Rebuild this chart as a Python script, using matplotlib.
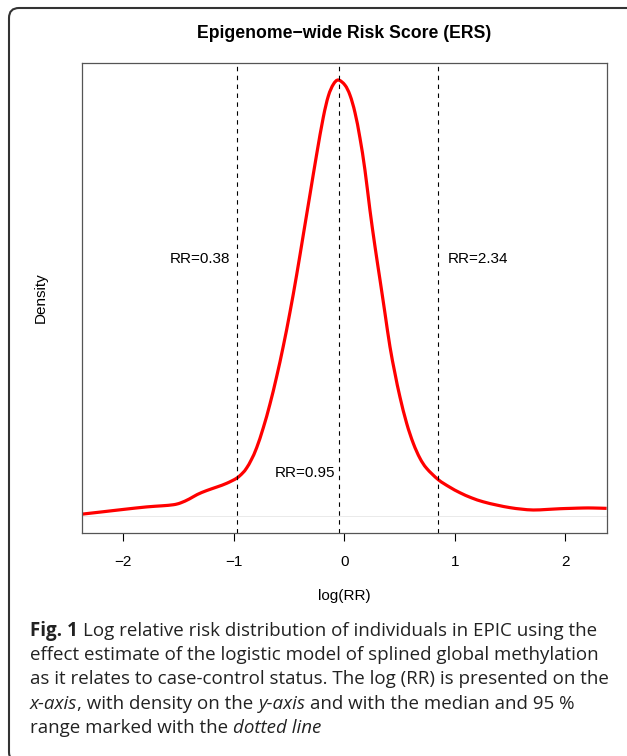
import matplotlib
matplotlib.use("Agg")
import matplotlib.pyplot as plt
import numpy as np
from matplotlib.patches import FancyBboxPatch, PathPatch
from matplotlib.path import Path
from matplotlib.transforms import IdentityTransform

# ---- data ----
log_rr = [-2.374, -2.2, -2.0, -1.787, -1.65, -1.545, -1.48, -1.40, -1.33, -1.244, -1.15,
          -1.063, -0.973, -0.92, -0.883, -0.84, -0.792, -0.732, -0.672, -0.612, -0.551, -0.491,
          -0.431, -0.371, -0.310, -0.250, -0.190, -0.144, -0.099, -0.054, 0.006,
          0.052, 0.097, 0.142, 0.187, 0.232, 0.278, 0.323, 0.368, 0.413, 0.458,
          0.503, 0.564, 0.624, 0.684, 0.745, 0.850, 0.95, 1.046, 1.15, 1.257,
          1.38, 1.498, 1.6, 1.709, 1.83, 1.950, 2.05, 2.161, 2.25, 2.372]
density = [0.005, 0.011, 0.018, 0.025, 0.028, 0.031, 0.036, 0.047, 0.059, 0.070, 0.080,
           0.090, 0.104, 0.118, 0.132, 0.155, 0.188, 0.243, 0.308, 0.383, 0.468, 0.561,
           0.663, 0.773, 0.885, 0.995, 1.097, 1.156, 1.188, 1.200, 1.186,
           1.158, 1.110, 1.040, 0.952, 0.842, 0.741, 0.650, 0.558, 0.466, 0.393,
           0.328, 0.255, 0.200, 0.159, 0.131, 0.100, 0.080, 0.064, 0.050, 0.039,
           0.030, 0.023, 0.019, 0.0165, 0.018, 0.020, 0.021, 0.022, 0.022, 0.021]
ref_lines = [-0.968, -0.051, 0.850]          # log(0.38), log(0.95), log(2.34)
ref_labels = ["RR=0.38", "RR=0.95", "RR=2.34"]
xticks = [-2, -1, 0, 1, 2]
title = "Epigenome\u2212wide Risk Score (ERS)"
xlabel = "log(RR)"
ylabel = "Density"
caption = [
    [("Fig. 1", "bold"), ("Log relative risk distribution of individuals in EPIC using the", "normal")],
    [("effect estimate of the logistic model of splined global methylation", "normal")],
    [("as it relates to case-control status. The log (RR) is presented on the", "normal")],
    [("x-axis", "italic"), (", with density on the", "normal"), ("y-axis", "italic"),
     ("and with the median and 95 %", "normal")],
    [("range marked with the", "normal"), ("dotted line", "italic")],
]

W, H = 627, 756
fig = plt.figure(figsize=(W / 100, H / 100), dpi=100)
fig.patch.set_facecolor("white")

# outer rounded frame
frame = FancyBboxPatch((9, -6), 640, 754, boxstyle="round,pad=0,rounding_size=10",
                       transform=IdentityTransform(), facecolor="none",
                       edgecolor="#333333", linewidth=1.5)
fig.patches.append(frame)

ax = fig.add_axes([81.7 / W, 1 - 533 / H, (607.3 - 81.7) / W, (533 - 63) / H])

# smooth curve through the read points (Catmull-Rom drawn as cubic Bezier segments)
P = np.column_stack([log_rr, density])
verts = [P[0]]
codes = [Path.MOVETO]
n = len(P)
for i in range(n - 1):
    p0 = P[i - 1] if i > 0 else P[i]
    p1, p2 = P[i], P[i + 1]
    p3 = P[i + 2] if i + 2 < n else P[i + 1]
    c1 = p1 + (p2 - p0) / 6.0
    c2 = p2 - (p3 - p1) / 6.0
    verts += [c1, c2, p2]
    codes += [Path.CURVE4] * 3
curve = PathPatch(Path(verts, codes), facecolor="none", edgecolor="red", lw=2.3,
                  transform=ax.transData, joinstyle="round", capstyle="butt")
ax.add_patch(curve)

ax.axhline(0, color="#e6e6e6", lw=0.6, zorder=0)
for xv in ref_lines:
    ax.axvline(xv, color="black", lw=0.8, linestyle=(0, (4, 4)))

chart_font = "Liberation Sans"
ax.text(-1.034, 0.707, ref_labels[0], ha="right", va="center", fontsize=11, family=chart_font)
ax.text(-0.084, 0.1175, ref_labels[1], ha="right", va="center", fontsize=11, family=chart_font)
ax.text(0.934, 0.707, ref_labels[2], ha="left", va="center", fontsize=11, family=chart_font)

ax.set_xlim(-2.374, 2.378)
ax.set_ylim(-0.0468, 1.2468)
ax.set_yticks([])
ax.set_xticks(xticks)
ax.set_xticklabels([f"{t}".replace("-", "\u2212") for t in xticks], family=chart_font, fontsize=11)
ax.tick_params(axis="x", direction="out", length=6, width=0.8, pad=10, colors="black")
for s in ax.spines.values():
    s.set_color("#555555")
    s.set_linewidth(0.9)

fig.text(344.5 / W, 1 - 33 / H, title, ha="center", va="center", fontsize=12.7,
         fontweight="bold", family=chart_font)
fig.text(344.5 / W, 1 - 596 / H, xlabel, ha="center", va="center", fontsize=11, family=chart_font)
fig.text(41 / W, 1 - 298 / H, ylabel, ha="center", va="center", rotation=90, fontsize=11,
         family=chart_font)

# caption with mixed styles
cap_font = "Open Sans"
renderer = fig.canvas.get_renderer()

def width_px(s, size, weight="normal", style="normal"):
    t = fig.text(0, 0, s, fontsize=size, family=cap_font, fontweight=weight, fontstyle=style)
    w = t.get_window_extent(renderer).width
    t.remove()
    return w

target = 575.0
probe = caption[2][0][0]
cap_size = 12 * target / width_px(probe, 12)
space = width_px("x x", cap_size) - width_px("xx", cap_size)

baselines = [635.7, 660.0, 684.3, 708.6, 733.0]
for line, yb in zip(caption, baselines):
    x = 30.0
    for i, (s, st) in enumerate(line):
        if i > 0 and not s.startswith(","):
            x += space
        weight = "bold" if st == "bold" else "normal"
        style = "italic" if st == "italic" else "normal"
        t = fig.text(x / W, 1 - yb / H, s, fontsize=cap_size, family=cap_font,
                     fontweight=weight, fontstyle=style, ha="left", va="baseline", color="#222222")
        x += t.get_window_extent(renderer).width

fig.savefig("out.png", dpi=100)
